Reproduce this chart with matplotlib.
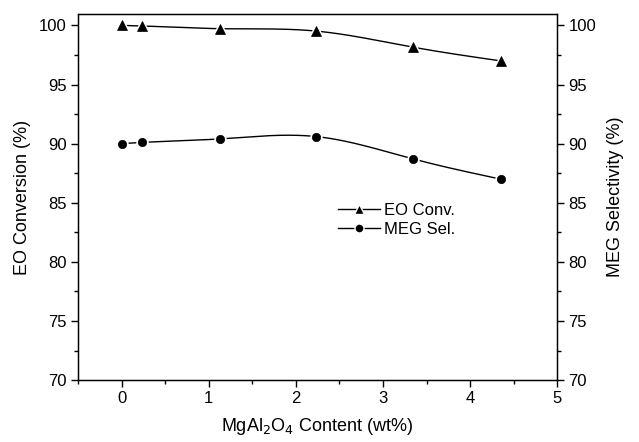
import numpy as np
import matplotlib
matplotlib.use("Agg")
import matplotlib.pyplot as plt
from matplotlib.ticker import MultipleLocator
from matplotlib.lines import Line2D

plt.rcParams['font.family'] = ['Liberation Sans', 'DejaVu Sans']

content = [0, 0.23, 1.13, 2.23, 3.35, 4.35]
eo_conv = [100.0, 99.95, 99.72, 99.52, 98.15, 97.0]
meg_sel = [90.0, 90.1, 90.4, 90.6, 88.7, 87.0]


def natural_spline(x, y, n=300):
    x = np.asarray(x, float); y = np.asarray(y, float)
    k = len(x); h = np.diff(x)
    A = np.zeros((k, k)); b = np.zeros(k)
    A[0, 0] = A[-1, -1] = 1
    for i in range(1, k - 1):
        A[i, i - 1] = h[i - 1]; A[i, i] = 2 * (h[i - 1] + h[i]); A[i, i + 1] = h[i]
        b[i] = 3 * ((y[i + 1] - y[i]) / h[i] - (y[i] - y[i - 1]) / h[i - 1])
    c = np.linalg.solve(A, b)
    xs = np.linspace(x[0], x[-1], n); ys = np.empty_like(xs)
    for j, xv in enumerate(xs):
        i = min(np.searchsorted(x, xv, side='right') - 1, k - 2)
        d = xv - x[i]
        bi = (y[i + 1] - y[i]) / h[i] - h[i] * (2 * c[i] + c[i + 1]) / 3
        di = (c[i + 1] - c[i]) / (3 * h[i])
        ys[j] = y[i] + bi * d + c[i] * d ** 2 + di * d ** 3
    return xs, ys


fig = plt.figure(figsize=(6.39, 4.42), dpi=100)
ax = fig.add_axes([0.122, 0.140, 0.750, 0.828])

for yv, mk in [(eo_conv, '^'), (meg_sel, 'o')]:
    xs, ys = natural_spline(content, yv)
    ax.plot(xs, ys, color='black', lw=1.0, zorder=2)
    ax.plot(content, yv, linestyle='none', marker=mk, ms=8 if mk == '^' else 7,
            mfc='black', mec='white', mew=2.0, zorder=3)
    ax.plot(content, yv, linestyle='none', marker=mk, ms=7 if mk == '^' else 6,
            mfc='black', mec='black', mew=0.5, zorder=4)

ax.set_xlim(-0.5, 5)
ax.set_ylim(70, 100.95)
ax.xaxis.set_major_locator(MultipleLocator(1))
ax.xaxis.set_minor_locator(MultipleLocator(0.5))
ax.yaxis.set_major_locator(MultipleLocator(5))
ax.yaxis.set_minor_locator(MultipleLocator(2.5))
ax.tick_params(which='both', direction='out', top=False, labelsize=12, width=1.0)
ax.tick_params(which='major', length=5, pad=3)
ax.tick_params(which='minor', length=3)
ax.set_xlabel('MgAl$_2$O$_4$ Content (wt%)', fontsize=13, labelpad=7)
ax.set_ylabel('EO Conversion (%)', fontsize=13, labelpad=6)
for s in ax.spines.values():
    s.set_linewidth(1.0)

ax2 = ax.twinx()
ax2.set_ylim(70, 100.95)
ax2.yaxis.set_major_locator(MultipleLocator(5))
ax2.yaxis.set_minor_locator(MultipleLocator(2.5))
ax2.tick_params(which='both', direction='out', labelsize=12, width=1.0)
ax2.tick_params(which='major', length=5, pad=3)
ax2.tick_params(which='minor', length=3)
ax2.set_ylabel('MEG Selectivity (%)', fontsize=13, labelpad=8)

handles = [Line2D([], [], color='black', lw=1.0, marker='^', ms=7, mfc='black', mec='white', mew=1.0),
           Line2D([], [], color='black', lw=1.0, marker='o', ms=6.5, mfc='black', mec='white', mew=1.0)]
ax.legend(handles, ['EO Conv.', 'MEG Sel.'], loc='upper left', bbox_to_anchor=(0.543, 0.485),
          frameon=False, fontsize=12, handlelength=2.5, handletextpad=0.25, labelspacing=0.25,
          borderaxespad=0, borderpad=0)

fig.savefig('out.png', dpi=100)
